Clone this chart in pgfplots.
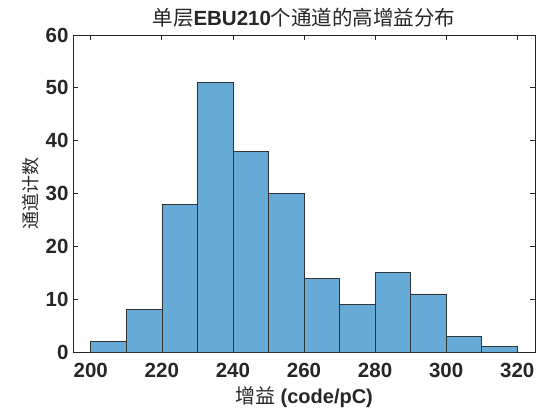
\documentclass[border=0pt]{standalone}
\usepackage{pgfplots}
\pgfplotsset{compat=1.18}
\usepackage{fontspec}
\setmainfont{Liberation Sans}
\newfontfamily\cjk{Noto Sans CJK SC}
\definecolor{barc}{RGB}{102,170,215}
\definecolor{axc}{RGB}{38,38,38}
\begin{document}
\begin{tikzpicture}
\useasboundingbox (-73pt,-57pt) rectangle (472pt,352pt);
\begin{axis}[
  at={(0pt,0pt)}, anchor=south west,
  scale only axis, width=462pt, height=317pt,
  xmin=195, xmax=325, ymin=0, ymax=60,
  xtick={200,220,...,320}, ytick={0,10,...,60},
  tick align=inside, major tick length=5pt,
  axis line style={axc, line width=1pt},
  every tick/.style={axc, line width=0.8pt},
  tick label style={font=\fontsize{20.5}{22}\selectfont\bfseries, text=axc},
  /pgf/number format/assume math mode=true,
  xticklabel style={yshift=-8pt},
  yticklabel style={xshift=-1pt},
  title={{\cjk 单层}\textbf{EBU210}{\cjk 个通道的高增益分布}},
  title style={font=\fontsize{20.5}{22}\selectfont, text=axc, yshift=-2pt},
  xlabel={{\cjk 增益} \textbf{(code/pC)}},
  xlabel style={font=\fontsize{20}{22}\selectfont, text=axc, yshift=-2pt},
  ylabel={\cjk 通道计数},
  ylabel style={font=\fontsize{18}{20}\selectfont, text=axc, yshift=0pt},
]
\addplot[ybar interval, fill=barc, draw=black!80, line width=0.6pt] coordinates {
(200,2) (210,8) (220,28) (230,51) (240,38) (250,30) (260,14)
(270,9) (280,15) (290,11) (300,3) (310,1) (320,0)
};
\end{axis}
\end{tikzpicture}
\end{document}
